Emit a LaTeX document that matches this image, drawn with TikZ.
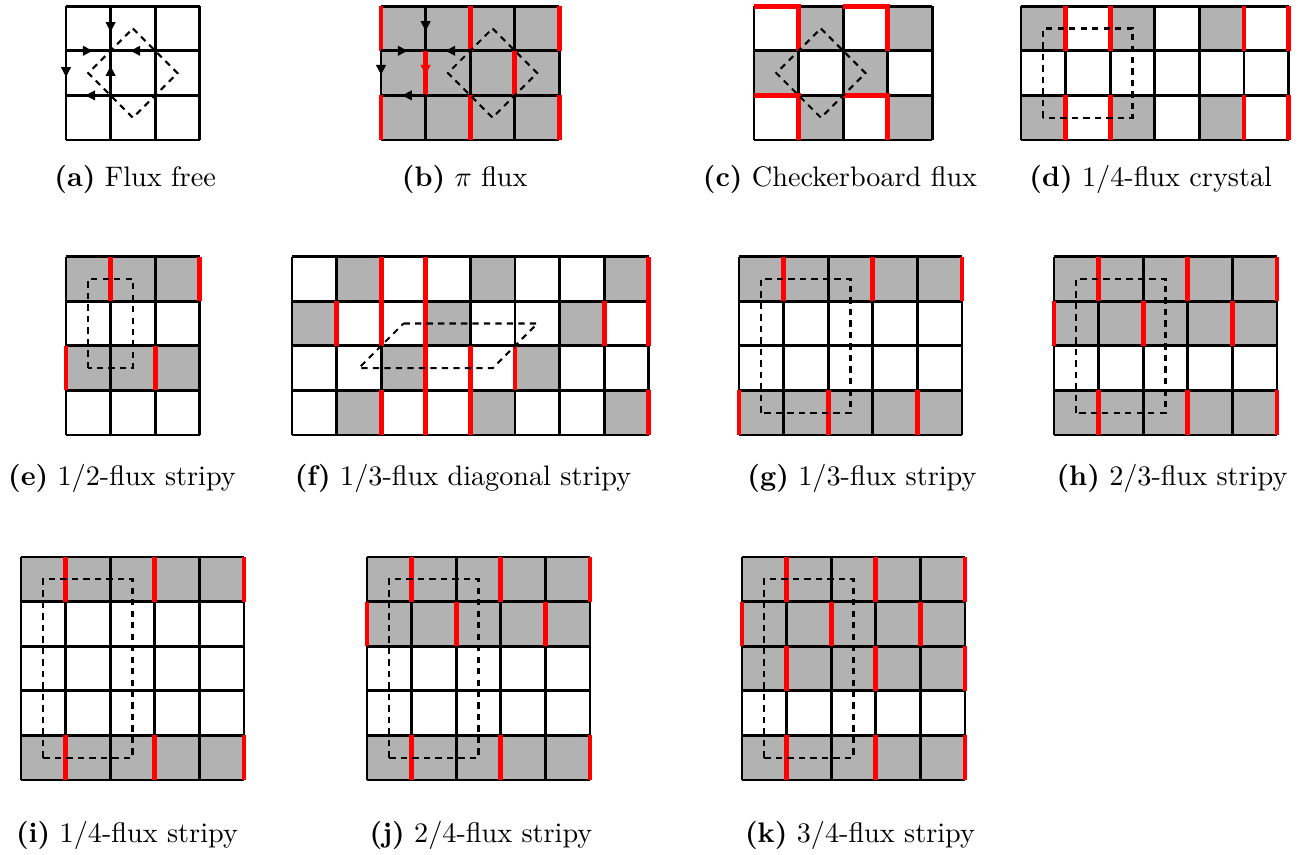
\documentclass[tikz,border=0pt]{standalone}
\usetikzlibrary{arrows.meta}
\begin{document}
\begin{tikzpicture}[x=6mm,y=6mm,line join=miter,
  latt/.style={line width=1.1pt},
  cellfill/.style={fill=black!30},
  flux/.style={draw=red,line width=1.8pt},
  plaq/.style={dash pattern=on 2.4pt off 2pt,line width=.8pt},
  hop/.style={line width=1.1pt,-{Triangle[length=3.8pt,width=3.6pt]}},
  subcap/.style={inner sep=0pt,anchor=base,font=\fontsize{10.8}{13}\selectfont}]
\useasboundingbox (0,0) rectangle (29.327,19.170);
% (a) flux free
\begin{scope}[shift={(1.480,16.031)}]
  \draw[latt] (0,0) grid[step=1] (3,3);
  \draw[hop] (1,3) -- (1,2.42);
  \draw[hop] (0,2) -- (0.6,2);
  \draw[hop] (2,2) -- (1.44,2);
  \draw[hop] (0,2) -- (0,1.41);
  \draw[hop] (1,1) -- (1,1.66);
  \draw[hop] (1,1) -- (0.43,1);
  \draw[plaq] (1.5,2.5) -- (2.5,1.5) -- (1.5,0.5) -- (0.5,1.5) -- cycle;
\end{scope}
\node[subcap] (capa) at (3.030,14.978) {\textbf{(a)} Flux free};
% (b) pi flux
\begin{scope}[shift={(8.543,16.031)}]
  \fill[cellfill] (0,0) rectangle (4,3);
  \draw[latt] (0,0) grid[step=1] (4,3);
  \draw[flux] (0,2) -- (0,3) (2,2) -- (2,3) (4,2) -- (4,3)
    (1,1) -- (1,2) (3,1) -- (3,2)
    (0,0) -- (0,1) (2,0) -- (2,1) (4,0) -- (4,1);
  \draw[hop] (1,3) -- (1,2.44);
  \draw[hop] (0,2) -- (0.6,2);
  \draw[hop] (2,2) -- (1.44,2);
  \draw[hop] (0,2) -- (0,1.46);
  \draw[hop,red] (1,2) -- (1,1.46);
  \draw[hop] (1,1) -- (0.47,1);
  \draw[plaq] (2.5,2.5) -- (3.5,1.5) -- (2.5,0.5) -- (1.5,1.5) -- cycle;
\end{scope}
\node[subcap] (capb) at (10.420,14.978) {\textbf{(b)} $\pi$ flux};
% (c) checkerboard
\begin{scope}[shift={(16.906,16.031)}]
  \fill[cellfill] (1,2) rectangle ++(1,1) (3,2) rectangle ++(1,1)
    (0,1) rectangle ++(1,1) (2,1) rectangle ++(1,1)
    (1,0) rectangle ++(1,1) (3,0) rectangle ++(1,1);
  \draw[latt] (0,0) grid[step=1] (4,3);
  \draw[flux] (0,3) -- (1,3) -- (1,2) (2,3) -- (3,3) -- (3,2)
    (0,1) -- (1,1) -- (1,0) (2,1) -- (3,1) -- (3,0);
  \draw[plaq] (1.5,2.5) -- (2.5,1.5) -- (1.5,0.5) -- (0.5,1.5) -- cycle;
\end{scope}
\node[subcap] (capc) at (18.834,14.978) {\textbf{(c)} Checkerboard flux};
% (d) 1/4 crystal
\begin{scope}[shift={(22.892,16.031)}]
  \fill[cellfill] (0,2) rectangle ++(1,1) (2,2) rectangle ++(1,1)
    (4,2) rectangle ++(1,1) (0,0) rectangle ++(1,1)
    (2,0) rectangle ++(1,1) (4,0) rectangle ++(1,1);
  \draw[latt] (0,0) grid[step=1] (6,3);
  \draw[flux] (1,2) -- (1,3) (2,2) -- (2,3) (5,2) -- (5,3) (6,2) -- (6,3)
    (1,0) -- (1,1) (2,0) -- (2,1) (5,0) -- (5,1) (6,0) -- (6,1);
  \draw[plaq] (0.5,0.5) rectangle (2.5,2.5);
\end{scope}
\node[subcap] (capd) at (25.800,14.978) {\textbf{(d)} 1/4-flux crystal};
% (e) 1/2 stripy
\begin{scope}[shift={(1.480,9.417)}]
  \fill[cellfill] (0,3) rectangle (3,4) (0,1) rectangle (3,2);
  \draw[latt] (0,0) grid[step=1] (3,4);
  \draw[flux] (1,3) -- (1,4) (3,3) -- (3,4) (0,1) -- (0,2) (2,1) -- (2,2);
  \draw[plaq] (0.5,1.5) rectangle (1.5,3.5);
\end{scope}
\node[subcap] (cape) at (2.735,8.274) {\textbf{(e)} 1/2-flux stripy};
% (f) 1/3 diagonal
\begin{scope}[shift={(6.547,9.417)}]
  \fill[cellfill] (1,3) rectangle ++(1,1) (4,3) rectangle ++(1,1) (7,3) rectangle ++(1,1)
    (0,2) rectangle ++(1,1) (3,2) rectangle ++(1,1) (6,2) rectangle ++(1,1)
    (2,1) rectangle ++(1,1) (5,1) rectangle ++(1,1)
    (1,0) rectangle ++(1,1) (4,0) rectangle ++(1,1) (7,0) rectangle ++(1,1);
  \draw[latt] (0,0) grid[step=1] (8,4);
  \draw[flux] (2,2) -- (2,4) (3,0) -- (3,4) (8,2) -- (8,4)
    (1,2) -- (1,3) (7,2) -- (7,3) (4,0) -- (4,2) (5,1) -- (5,2)
    (2,0) -- (2,1) (8,0) -- (8,1);
  \draw[plaq] (2.5,2.5) -- (5.5,2.5) -- (4.5,1.5) -- (1.5,1.5) -- cycle;
\end{scope}
\node[subcap] (capf) at (10.381,8.274) {\textbf{(f)} 1/3-flux diagonal stripy};
% (g) 1/3 stripy
\begin{scope}[shift={(16.570,9.417)}]
  \fill[cellfill] (0,3) rectangle (5,4) (0,0) rectangle (5,1);
  \draw[latt] (0,0) grid[step=1] (5,4);
  \draw[flux] (1,3) -- (1,4) (3,3) -- (3,4) (5,3) -- (5,4)
    (0,0) -- (0,1) (2,0) -- (2,1) (4,0) -- (4,1);
  \draw[plaq] (0.5,0.5) rectangle (2.5,3.5);
\end{scope}
\node[subcap] (capg) at (19.327,8.274) {\textbf{(g)} 1/3-flux stripy};
% (h) 2/3 stripy
\begin{scope}[shift={(23.632,9.417)}]
  \fill[cellfill] (0,2) rectangle (5,4) (0,0) rectangle (5,1);
  \draw[latt] (0,0) grid[step=1] (5,4);
  \draw[flux] (1,3) -- (1,4) (3,3) -- (3,4) (5,3) -- (5,4)
    (0,2) -- (0,3) (2,2) -- (2,3) (4,2) -- (4,3)
    (1,0) -- (1,1) (3,0) -- (3,1) (5,0) -- (5,1);
  \draw[plaq] (0.5,0.5) rectangle (2.5,3.5);
\end{scope}
\node[subcap] (caph) at (26.278,8.274) {\textbf{(h)} 2/3-flux stripy};
% (i) 1/4 stripy
\begin{scope}[shift={(0.471,1.682)}]
  \fill[cellfill] (0,4) rectangle (5,5) (0,0) rectangle (5,1);
  \draw[latt] (0,0) grid[step=1] (5,5);
  \draw[flux] (1,4) -- (1,5) (3,4) -- (3,5) (5,4) -- (5,5)
    (1,0) -- (1,1) (3,0) -- (3,1) (5,0) -- (5,1);
  \draw[plaq] (0.5,0.5) rectangle (2.5,4.5);
\end{scope}
\node[subcap] (capi) at (2.848,0.291) {\textbf{(i)} 1/4-flux stripy};
% (j) 2/4 stripy
\begin{scope}[shift={(8.229,1.682)}]
  \fill[cellfill] (0,3) rectangle (5,5) (0,0) rectangle (5,1);
  \draw[latt] (0,0) grid[step=1] (5,5);
  \draw[flux] (1,4) -- (1,5) (3,4) -- (3,5) (5,4) -- (5,5)
    (0,3) -- (0,4) (2,3) -- (2,4) (4,3) -- (4,4)
    (1,0) -- (1,1) (3,0) -- (3,1) (5,0) -- (5,1);
  \draw[plaq] (0.5,0.5) rectangle (2.5,4.5);
\end{scope}
\node[subcap] (capj) at (10.785,0.291) {\textbf{(j)} 2/4-flux stripy};
% (k) 3/4 stripy
\begin{scope}[shift={(16.637,1.682)}]
  \fill[cellfill] (0,2) rectangle (5,5) (0,0) rectangle (5,1);
  \draw[latt] (0,0) grid[step=1] (5,5);
  \draw[flux] (1,4) -- (1,5) (3,4) -- (3,5) (5,4) -- (5,5)
    (0,3) -- (0,4) (2,3) -- (2,4) (4,3) -- (4,4)
    (1,2) -- (1,3) (3,2) -- (3,3) (5,2) -- (5,3)
    (1,0) -- (1,1) (3,0) -- (3,1) (5,0) -- (5,1);
  \draw[plaq] (0.5,0.5) rectangle (2.5,4.5);
\end{scope}
\node[subcap] (capk) at (19.283,0.291) {\textbf{(k)} 3/4-flux stripy};
\end{tikzpicture}
\end{document}
